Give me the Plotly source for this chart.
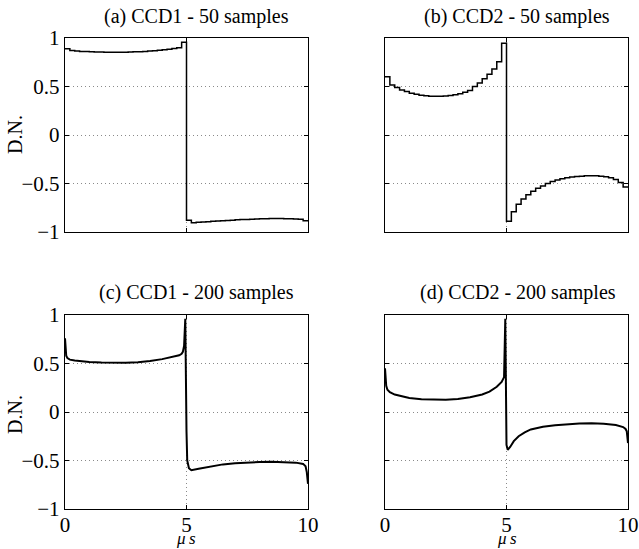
import plotly.graph_objects as go
from plotly.subplots import make_subplots

# ---------------- data ----------------
# 50-sample signals (one value per 0.2 us step, 0 .. 9.8 us)
t50 = [round(i * 0.2, 1) for i in range(51)]  # step edges 0 .. 10

ccd1_50 = [
    0.89, 0.87, 0.865, 0.862, 0.86, 0.858, 0.856, 0.855, 0.854, 0.853,
    0.853, 0.853, 0.854, 0.855, 0.857, 0.859, 0.862, 0.865, 0.869, 0.874,
    0.879, 0.885, 0.892, 0.90, 0.955,
    -0.88, -0.905, -0.90, -0.897, -0.894, -0.89, -0.887, -0.884, -0.881, -0.878,
    -0.875, -0.872, -0.87, -0.868, -0.866, -0.864, -0.863, -0.862, -0.862, -0.862,
    -0.863, -0.864, -0.866, -0.868, -0.885,
]

ccd2_50 = [
    0.60, 0.515, 0.49, 0.465, 0.448, 0.43, 0.42, 0.41, 0.405, 0.40,
    0.40, 0.40, 0.403, 0.408, 0.415, 0.425, 0.44, 0.46, 0.50, 0.535,
    0.58, 0.625, 0.68, 0.755, 0.945,
    -0.89, -0.79, -0.715, -0.66, -0.615, -0.58, -0.55, -0.525, -0.50, -0.48,
    -0.465, -0.452, -0.442, -0.434, -0.428, -0.424, -0.421, -0.42, -0.421, -0.424,
    -0.43, -0.44, -0.46, -0.49, -0.535,
]

# 200-sample signals
t_c = [0.0, 0.05, 0.1, 0.2, 0.4, 0.7, 1.0, 1.5, 2.0, 2.5, 3.0, 3.5, 4.0, 4.4,
       4.7, 4.8, 4.85, 4.9, 4.95, 5.0, 5.03, 5.1, 5.2, 5.5, 6.0, 6.5, 7.0,
       7.5, 8.0, 8.5, 9.0, 9.5, 9.8, 9.9, 9.95, 10.0]
ccd1_200 = [0.76, 0.58, 0.555, 0.54, 0.53, 0.522, 0.516, 0.51, 0.508, 0.508,
            0.513, 0.525, 0.545, 0.565, 0.585, 0.60, 0.62, 0.68, 0.96, -0.2,
            -0.5, -0.58, -0.60, -0.585, -0.56, -0.54, -0.528, -0.52, -0.515,
            -0.512, -0.515, -0.522, -0.535, -0.56, -0.62, -0.74]

t_d = [0.0, 0.05, 0.1, 0.2, 0.4, 0.7, 1.0, 1.5, 2.0, 2.5, 3.0, 3.5, 4.0, 4.3,
       4.6, 4.8, 4.9, 4.95, 5.0, 5.05, 5.15, 5.3, 5.5, 5.75, 6.0, 6.5, 7.0,
       7.5, 8.0, 8.5, 9.0, 9.5, 9.8, 9.9, 9.95, 10.0]
ccd2_200 = [0.45, 0.27, 0.23, 0.205, 0.18, 0.16, 0.145, 0.132, 0.126, 0.127,
            0.135, 0.152, 0.18, 0.21, 0.26, 0.31, 0.36, 0.96, -0.34, -0.39,
            -0.36, -0.30, -0.25, -0.21, -0.18, -0.152, -0.136, -0.125, -0.119,
            -0.117, -0.12, -0.135, -0.155, -0.175, -0.2, -0.32]

titles = ["(a) CCD1 - 50 samples", "(b) CCD2 - 50 samples",
          "(c) CCD1 - 200 samples", "(d) CCD2 - 200 samples"]
y_ticks = [-1, -0.5, 0, 0.5, 1]
y_ticktext = ["\u22121", "\u22120.5", "0", "0.5", "1"]
x_ticks = [0, 5, 10]
x_ticktext = ["0", "5", "10"]

# ---------------- figure ----------------
W, H = 639, 549
SERIF = "Liberation Serif"

fig = make_subplots(rows=2, cols=2)

fig.add_trace(go.Scatter(x=t50, y=ccd1_50 + [ccd1_50[-1]], mode="lines",
                         line=dict(color="black", width=1.5, shape="hv")), row=1, col=1)
fig.add_trace(go.Scatter(x=t50, y=ccd2_50 + [ccd2_50[-1]], mode="lines",
                         line=dict(color="black", width=1.5, shape="hv")), row=1, col=2)
fig.add_trace(go.Scatter(x=t_c, y=ccd1_200, mode="lines",
                         line=dict(color="black", width=2.0)), row=2, col=1)
fig.add_trace(go.Scatter(x=t_d, y=ccd2_200, mode="lines",
                         line=dict(color="black", width=2.0)), row=2, col=2)

xl = [65 / W, 308 / W]
xr = [385 / W, 628 / W]
yt = [1 - 232 / H, 1 - 38 / H]
yb = [1 - 509 / H, 1 - 315 / H]

axis_common = dict(showline=True, linecolor="black", linewidth=1.2, mirror="ticks",
                   ticks="inside", ticklen=4, tickcolor="black", automargin=False,
                   showgrid=True, gridcolor="#8a8a8a", griddash="1px,3px", gridwidth=1,
                   zeroline=False, tickfont=dict(family=SERIF, size=21, color="black"))

for r, c, xd, yd in [(1, 1, xl, yt), (1, 2, xr, yt), (2, 1, xl, yb), (2, 2, xr, yb)]:
    fig.update_xaxes(domain=xd, range=[0, 10], tickvals=x_ticks, ticktext=x_ticktext,
                     showticklabels=(r == 2), ticklabelstandoff=-3, row=r, col=c, **axis_common)
    fig.update_yaxes(domain=yd, range=[-1, 1], tickvals=y_ticks, ticktext=y_ticktext,
                     showticklabels=(c == 1), row=r, col=c, **axis_common)

annotations = []
title_pos = [(196.5, 16.5), (517, 16.5), (196.5, 292), (517.5, 292)]
for txt, (px, py) in zip(titles, title_pos):
    annotations.append(dict(text=txt, x=px / W, y=1 - py / H, xref="paper", yref="paper",
                            xanchor="center", yanchor="middle", showarrow=False,
                            font=dict(family=SERIF, size=20, color="black")))
for py in [135, 415]:
    annotations.append(dict(text="D.N.", x=15 / W, y=1 - py / H, xref="paper", yref="paper",
                            xanchor="center", yanchor="middle", showarrow=False, textangle=-90,
                            font=dict(family=SERIF, size=20, color="black")))
for px in [186, 507]:
    annotations.append(dict(text="<i>\u03bc\u2009s</i>", x=px / W, y=0, xref="paper",
                            yref="paper", xanchor="center", yanchor="bottom", showarrow=False,
                            borderpad=0, font=dict(family=SERIF, size=17, color="black")))

fig.update_layout(width=W, height=H, margin=dict(l=0, r=0, t=0, b=0, autoexpand=False),
                  paper_bgcolor="white", plot_bgcolor="white", showlegend=False,
                  annotations=annotations)

fig.write_html("out.html", config={"displayModeBar": False, "staticPlot": True},
               post_script="document.body.style.margin='0';document.body.style.overflow='hidden';")
